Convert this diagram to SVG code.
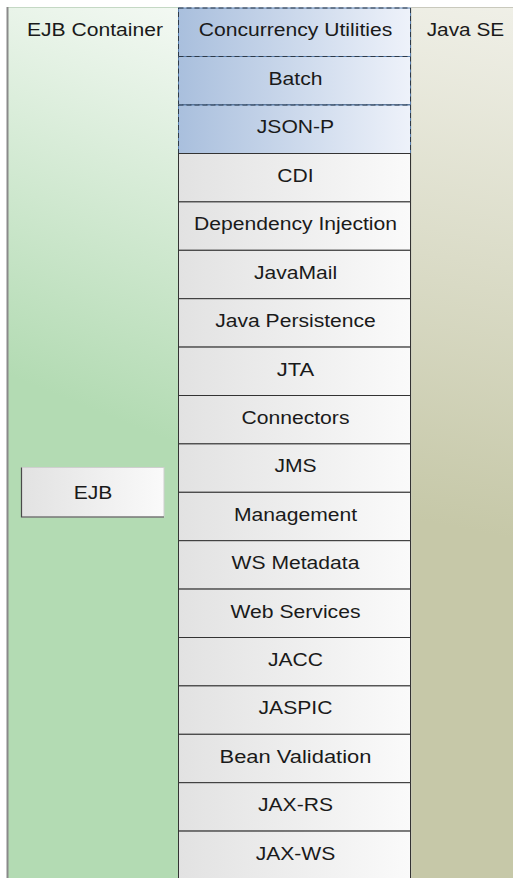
<svg xmlns="http://www.w3.org/2000/svg" width="513" height="878" viewBox="0 0 513 878">
<defs>
<linearGradient id="gGreen" gradientUnits="userSpaceOnUse" x1="175" y1="0" x2="20" y2="380">
<stop offset="0" stop-color="#f4f9f4"/><stop offset="1" stop-color="#b3dbb3"/>
</linearGradient>
<linearGradient id="gSE" gradientUnits="userSpaceOnUse" x1="513" y1="0" x2="415" y2="520">
<stop offset="0" stop-color="#f0f0e8"/><stop offset="1" stop-color="#c6c8a8"/>
</linearGradient>
<linearGradient id="gBlue" x1="0" y1="0" x2="1" y2="0">
<stop offset="0" stop-color="#a9bfdd"/><stop offset="1" stop-color="#eef2fa"/>
</linearGradient>
<linearGradient id="gGray" x1="0" y1="0" x2="1" y2="0">
<stop offset="0" stop-color="#e2e2e2"/><stop offset="1" stop-color="#fafafa"/>
</linearGradient>
</defs>
<style>
text{font-family:"Liberation Sans",Arial,sans-serif;font-size:18.7px;fill:#1a1a1a;lengthAdjust:spacingAndGlyphs}
.c{text-anchor:middle}
.gray{fill:url(#gGray);stroke:#333;stroke-width:1}
.gray2{fill:none;stroke:#c8c8c8;stroke-width:1}
.blue{fill:url(#gBlue);stroke:#5a80b0;stroke-width:1}
.dash{fill:none;stroke:#2e3a48;stroke-width:1;stroke-dasharray:5,3}
</style>
<g id="ejb-container">
<rect x="7.5" y="7.5" width="171" height="875" fill="url(#gGreen)" stroke="#c4d8c4" stroke-width="1"/>
<line x1="7.5" y1="7" x2="7.5" y2="878" stroke="#8a8a8a" stroke-width="2"/>
<text x="27" y="35.7" textLength="136" lengthAdjust="spacingAndGlyphs">EJB Container</text>
</g>
<g id="java-se">
<rect x="411" y="7.5" width="110" height="875" fill="url(#gSE)" stroke="#c9c9bd" stroke-width="1"/>
<text x="426.7" y="35.7" textLength="77.5" lengthAdjust="spacingAndGlyphs">Java SE</text>
</g>
<g id="concurrency-utilities">
<rect class="blue" x="178.5" y="8" width="232" height="48.5"/>
<rect class="dash" x="178.5" y="8" width="232" height="48.5"/>
<text class="c" x="295.5" y="36" textLength="193.5" lengthAdjust="spacingAndGlyphs">Concurrency Utilities</text>
</g>
<g id="batch">
<rect class="blue" x="178.5" y="56.5" width="232" height="48.5"/>
<rect class="dash" x="178.5" y="56.5" width="232" height="48.5"/>
<text class="c" x="295.5" y="84.5" textLength="54" lengthAdjust="spacingAndGlyphs">Batch</text>
</g>
<g id="json-p">
<rect class="blue" x="178.5" y="105" width="232" height="48.5"/>
<rect class="dash" x="178.5" y="105" width="232" height="48.5"/>
<text class="c" x="295.5" y="133" textLength="77.4" lengthAdjust="spacingAndGlyphs">JSON-P</text>
</g>
<g id="cdi">
<rect class="gray" x="178.5" y="153.5" width="232" height="48.4"/>
<text class="c" x="295.5" y="182" textLength="36.3" lengthAdjust="spacingAndGlyphs">CDI</text>
</g>
<g id="dependency-injection">
<rect class="gray" x="178.5" y="201.9" width="232" height="48.4"/>
<text class="c" x="295.5" y="230.3" textLength="203" lengthAdjust="spacingAndGlyphs">Dependency Injection</text>
</g>
<g id="javamail">
<rect class="gray" x="178.5" y="250.3" width="232" height="48.4"/>
<text class="c" x="295.5" y="278.7" textLength="83.2" lengthAdjust="spacingAndGlyphs">JavaMail</text>
</g>
<g id="java-persistence">
<rect class="gray" x="178.5" y="298.7" width="232" height="48.4"/>
<text class="c" x="295.5" y="327.1" textLength="160.7" lengthAdjust="spacingAndGlyphs">Java Persistence</text>
</g>
<g id="jta">
<rect class="gray" x="178.5" y="347.1" width="232" height="48.4"/>
<text class="c" x="295.5" y="375.5" textLength="37.5" lengthAdjust="spacingAndGlyphs">JTA</text>
</g>
<g id="connectors">
<rect class="gray" x="178.5" y="395.5" width="232" height="48.4"/>
<text class="c" x="295.5" y="423.9" textLength="107.9" lengthAdjust="spacingAndGlyphs">Connectors</text>
</g>
<g id="jms">
<rect class="gray" x="178.5" y="443.9" width="232" height="48.4"/>
<text class="c" x="295.5" y="472.3" textLength="42.2" lengthAdjust="spacingAndGlyphs">JMS</text>
</g>
<g id="management">
<rect class="gray" x="178.5" y="492.3" width="232" height="48.4"/>
<text class="c" x="295.5" y="520.7" textLength="123.1" lengthAdjust="spacingAndGlyphs">Management</text>
</g>
<g id="ws-metadata">
<rect class="gray" x="178.5" y="540.7" width="232" height="48.4"/>
<text class="c" x="295.5" y="569.1" textLength="127.8" lengthAdjust="spacingAndGlyphs">WS Metadata</text>
</g>
<g id="web-services">
<rect class="gray" x="178.5" y="589.1" width="232" height="48.4"/>
<text class="c" x="295.5" y="617.5" textLength="130" lengthAdjust="spacingAndGlyphs">Web Services</text>
</g>
<g id="jacc">
<rect class="gray" x="178.5" y="637.5" width="232" height="48.4"/>
<text class="c" x="295.5" y="665.9" textLength="55.1" lengthAdjust="spacingAndGlyphs">JACC</text>
</g>
<g id="jaspic">
<rect class="gray" x="178.5" y="685.9" width="232" height="48.4"/>
<text class="c" x="295.5" y="714.3" textLength="73.9" lengthAdjust="spacingAndGlyphs">JASPIC</text>
</g>
<g id="bean-validation">
<rect class="gray" x="178.5" y="734.3" width="232" height="48.4"/>
<text class="c" x="295.5" y="762.7" textLength="151.9" lengthAdjust="spacingAndGlyphs">Bean Validation</text>
</g>
<g id="jax-rs">
<rect class="gray" x="178.5" y="782.7" width="232" height="48.4"/>
<text class="c" x="295.5" y="811.1" textLength="75" lengthAdjust="spacingAndGlyphs">JAX-RS</text>
</g>
<g id="jax-ws">
<rect class="gray" x="178.5" y="831.1" width="232" height="60"/>
<text class="c" x="295.5" y="859.5" textLength="79.7" lengthAdjust="spacingAndGlyphs">JAX-WS</text>
</g>
<g id="ejb">
<rect x="21.5" y="467.5" width="142.5" height="49.5" fill="url(#gGray)" stroke="#cfcfcf" stroke-width="1"/>
<path d="M21.5 467.5 V517 H164" fill="none" stroke="#4a4a4a" stroke-width="1.2"/>
<text class="c" x="93" y="499" textLength="38.7" lengthAdjust="spacingAndGlyphs">EJB</text>
</g>
<g id="connectors-group"/>
</svg>
